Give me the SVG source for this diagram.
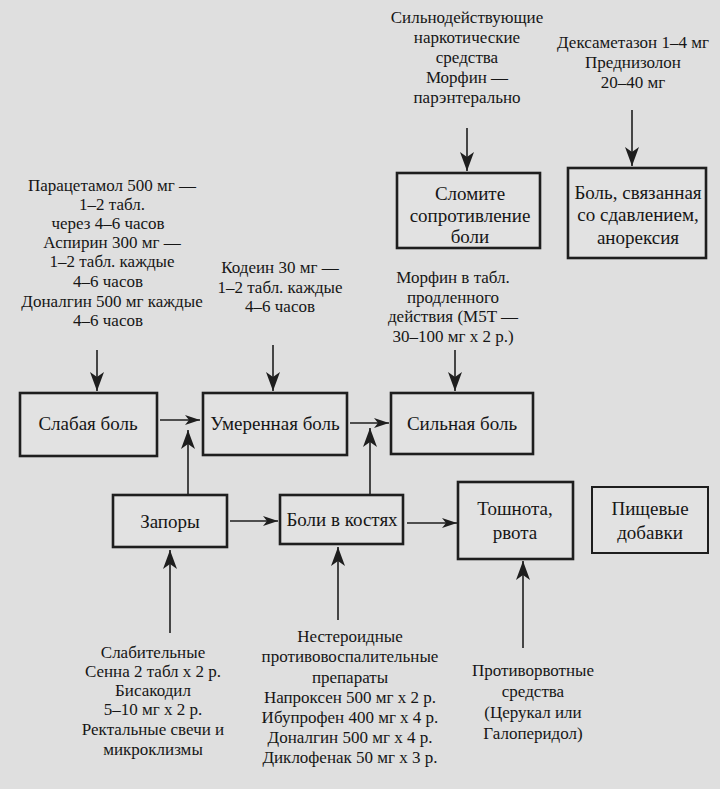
<svg xmlns="http://www.w3.org/2000/svg" width="720" height="789" viewBox="0 0 720 789">
<defs>
<style>
.bg{fill:#dfdfdf}
.box{fill:#e2e2e2;stroke:#1e1e1e;stroke-width:2.6}
.box2{fill:#e2e2e2;stroke:#1e1e1e;stroke-width:2}
.lbl{font-family:"Liberation Serif","Times New Roman",serif;font-size:19px;fill:#161616;text-anchor:middle;dominant-baseline:central}
.t{font-family:"Liberation Serif","Times New Roman",serif;font-size:17px;fill:#161616;text-anchor:middle;dominant-baseline:central}
.ln{stroke:#1e1e1e;stroke-width:1.6;fill:none}
</style>
<marker id="big" markerUnits="userSpaceOnUse" markerWidth="20" markerHeight="14" refX="19" refY="7" orient="auto">
<path d="M0,0 L19,7 L0,14 L5,7 z" fill="#1e1e1e"/>
</marker>
<marker id="small" markerUnits="userSpaceOnUse" markerWidth="16" markerHeight="10" refX="15" refY="5" orient="auto">
<path d="M0,0 L15,5 L0,10 L4,5 z" fill="#1e1e1e"/>
</marker>
</defs>
<rect class="bg" x="0" y="0" width="720" height="789"/>

<g id="connectors">
<line class="ln" x1="467" y1="128" x2="467" y2="171" marker-end="url(#big)"/>
<line class="ln" x1="632" y1="110" x2="632" y2="166" marker-end="url(#big)"/>
<line class="ln" x1="97" y1="350" x2="97" y2="391" marker-end="url(#big)"/>
<line class="ln" x1="273" y1="345" x2="273" y2="391" marker-end="url(#big)"/>
<line class="ln" x1="455" y1="350" x2="455" y2="391" marker-end="url(#big)"/>
<line class="ln" x1="160" y1="420" x2="200" y2="420" marker-end="url(#small)"/>
<line class="ln" x1="350" y1="423" x2="389" y2="423" marker-end="url(#small)"/>
<line class="ln" x1="188" y1="495" x2="188" y2="430" marker-end="url(#big)"/>
<line class="ln" x1="370" y1="495" x2="370" y2="428" marker-end="url(#big)"/>
<line class="ln" x1="230" y1="521" x2="278" y2="521" marker-end="url(#small)"/>
<line class="ln" x1="407" y1="523" x2="457" y2="523" marker-end="url(#small)"/>
<line class="ln" x1="170" y1="633" x2="170" y2="550" marker-end="url(#big)"/>
<line class="ln" x1="338" y1="620" x2="338" y2="547" marker-end="url(#big)"/>
<line class="ln" x1="523" y1="648" x2="523" y2="561" marker-end="url(#big)"/>
</g>

<g id="strong-opioids">
<text class="t" x="467" y="17">Сильнодействующие</text>
<text class="t" x="467" y="37">наркотические</text>
<text class="t" x="467" y="57">средства</text>
<text class="t" x="467" y="77">Морфин  —</text>
<text class="t" x="467" y="97">парэнтерально</text>
</g>

<g id="steroids">
<text class="t" x="633" y="42">Дексаметазон 1–4 мг</text>
<text class="t" x="633" y="62">Преднизолон</text>
<text class="t" x="633" y="82">20–40 мг</text>
</g>

<g id="break-resistance">
<rect class="box" x="397" y="173" width="143" height="75"/>
<text class="lbl" x="470" y="193">Сломите</text>
<text class="lbl" x="470" y="215">сопротивление</text>
<text class="lbl" x="470" y="236">боли</text>
</g>

<g id="compression-pain">
<rect class="box" x="568" y="168" width="138" height="90"/>
<text class="lbl" x="638" y="192">Боль, связанная</text>
<text class="lbl" x="638" y="214">со сдавлением,</text>
<text class="lbl" x="638" y="237">анорексия</text>
</g>

<g id="non-opioids">
<text class="t" x="112" y="185">Парацетамол 500 мг —</text>
<text class="t" x="112" y="204">1–2 табл.</text>
<text class="t" x="108" y="223">через 4–6 часов</text>
<text class="t" x="112" y="242">Аспирин 300 мг —</text>
<text class="t" x="112" y="261">1–2 табл. каждые</text>
<text class="t" x="108" y="281">4–6 часов</text>
<text class="t" x="112" y="301">Доналгин 500 мг каждые</text>
<text class="t" x="108" y="320">4–6 часов</text>
</g>

<g id="codeine">
<text class="t" x="280" y="267">Кодеин 30 мг —</text>
<text class="t" x="280" y="287">1–2 табл. каждые</text>
<text class="t" x="280" y="306">4–6 часов</text>
</g>

<g id="morphine-tabs">
<text class="t" x="453" y="277">Морфин в табл.</text>
<text class="t" x="453" y="297">продленного</text>
<text class="t" x="453" y="316">действия (M5T —</text>
<text class="t" x="453" y="336">30–100 мг x 2 р.)</text>
</g>

<g id="mild-pain">
<rect class="box" x="20" y="393" width="137" height="63"/>
<text class="lbl" x="88" y="423">Слабая боль</text>
</g>

<g id="moderate-pain">
<rect class="box" x="203" y="393" width="144" height="62"/>
<text class="lbl" x="275" y="423">Умеренная боль</text>
</g>

<g id="severe-pain">
<rect class="box" x="391" y="393" width="142" height="61"/>
<text class="lbl" x="462" y="423">Сильная боль</text>
</g>

<g id="constipation">
<rect class="box" x="113" y="495" width="114" height="52"/>
<text class="lbl" x="170" y="521">Запоры</text>
</g>

<g id="bone-pain">
<rect class="box" x="280" y="495" width="123" height="49"/>
<text class="lbl" x="342" y="519">Боли в костях</text>
</g>

<g id="nausea">
<rect class="box" x="458" y="482" width="115" height="77"/>
<text class="lbl" x="515" y="508">Тошнота,</text>
<text class="lbl" x="515" y="532">рвота</text>
</g>

<g id="supplements">
<rect class="box2" x="592" y="487" width="116" height="66"/>
<text class="lbl" x="650" y="508">Пищевые</text>
<text class="lbl" x="650" y="532">добавки</text>
</g>

<g id="laxatives">
<text class="t" x="153" y="652">Слабительные</text>
<text class="t" x="153" y="671">Сенна 2 табл x 2 р.</text>
<text class="t" x="153" y="690">Бисакодил</text>
<text class="t" x="153" y="709">5–10 мг x 2 р.</text>
<text class="t" x="153" y="729">Ректальные свечи и</text>
<text class="t" x="153" y="749">микроклизмы</text>
</g>

<g id="nsaids">
<text class="t" x="350" y="636">Нестероидные</text>
<text class="t" x="350" y="656">противовоспалительные</text>
<text class="t" x="350" y="677">препараты</text>
<text class="t" x="350" y="697">Напроксен 500 мг x 2 р.</text>
<text class="t" x="350" y="717">Ибупрофен 400 мг x 4 р.</text>
<text class="t" x="350" y="737">Доналгин 500 мг x 4 р.</text>
<text class="t" x="350" y="757">Диклофенак 50 мг x 3 р.</text>
</g>

<g id="antiemetics">
<text class="t" x="533" y="670">Противорвотные</text>
<text class="t" x="533" y="691">средства</text>
<text class="t" x="533" y="712">(Церукал или</text>
<text class="t" x="533" y="733">Галоперидол)</text>
</g>
</svg>
